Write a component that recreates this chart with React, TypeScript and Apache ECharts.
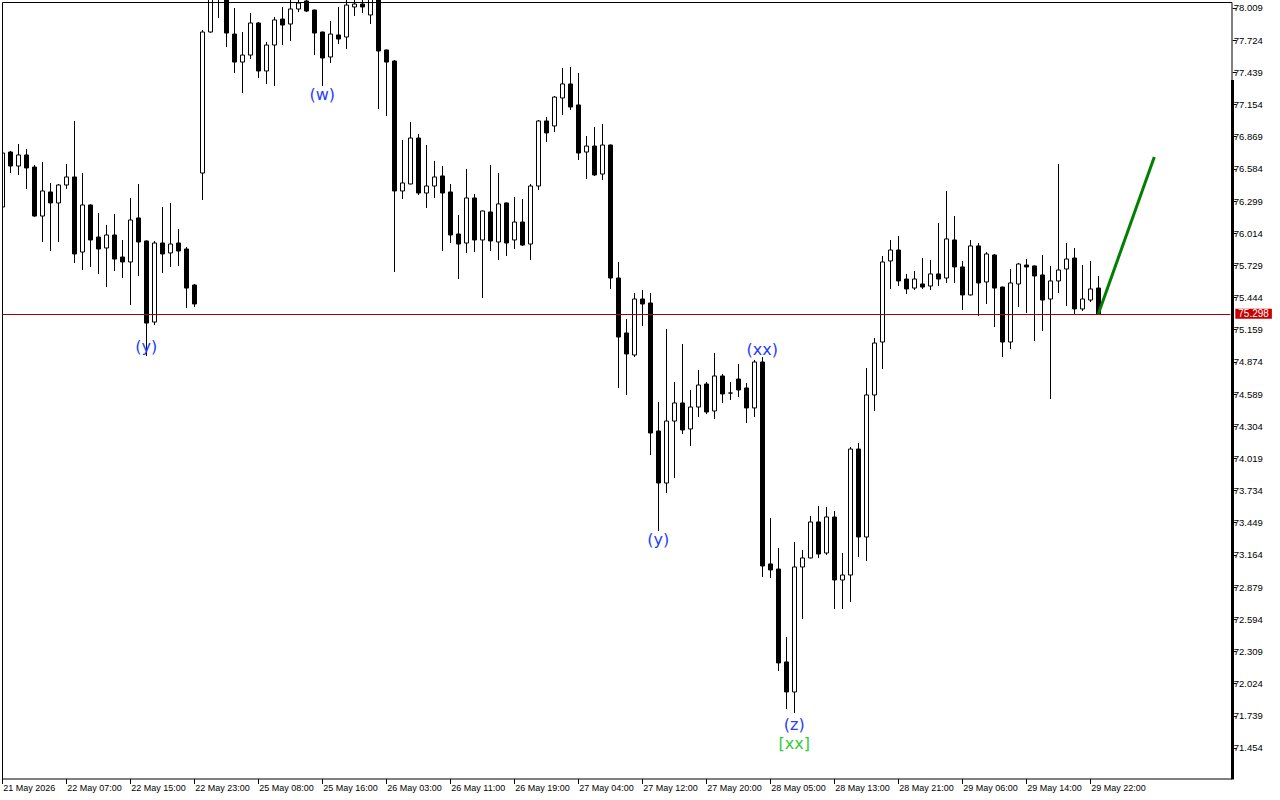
import React, { useEffect, useRef } from 'react';
import * as echarts from 'echarts';

// x-axis tick labels, one every 8 hourly bars
const xTickLabels = [
  '21 May 2026', '22 May 07:00', '22 May 15:00', '22 May 23:00', '25 May 08:00', '25 May 16:00',
  '26 May 03:00', '26 May 11:00', '26 May 19:00', '27 May 04:00', '27 May 12:00', '27 May 20:00',
  '28 May 05:00', '28 May 13:00', '28 May 21:00', '29 May 06:00', '29 May 14:00', '29 May 22:00',
];

// price axis labels
const yTickValues = [
  78.009, 77.724, 77.439, 77.154, 76.869, 76.584, 76.299, 76.014, 75.729, 75.444, 75.159, 74.874,
  74.589, 74.304, 74.019, 73.734, 73.449, 73.164, 72.879, 72.594, 72.309, 72.024, 71.739, 71.454,
];

// hourly candles: [open, close, low, high]
const candles: number[][] = [
  [76.246, 76.724, 76.219, 76.751], [76.733, 76.609, 76.547, 76.742], [76.609, 76.707, 76.530, 76.804],
  [76.707, 76.592, 76.406, 76.760], [76.600, 76.166, 76.160, 76.618], [76.166, 76.388, 75.936, 76.645],
  [76.379, 76.282, 75.856, 76.459], [76.282, 76.441, 75.936, 76.450], [76.441, 76.512, 76.406, 76.627],
  [76.512, 75.830, 75.750, 77.008], [75.847, 76.264, 75.688, 76.547], [76.264, 75.954, 75.715, 76.270],
  [75.980, 75.874, 75.653, 76.193], [75.883, 75.998, 75.537, 76.087], [75.998, 75.785, 75.679, 76.184],
  [75.803, 75.759, 75.617, 75.954], [75.759, 76.131, 75.378, 76.326], [76.149, 75.936, 75.635, 76.450],
  [75.945, 75.218, 74.926, 75.950], [75.227, 75.927, 75.201, 75.945], [75.927, 75.830, 75.661, 76.246],
  [75.839, 75.918, 75.715, 76.282], [75.927, 75.856, 75.724, 76.051], [75.874, 75.528, 75.351, 75.892],
  [75.555, 75.387, 75.360, 75.564], [76.547, 77.796, 76.308, 77.814], [77.796, 78.124, 77.790, 78.168],
  [78.213, 78.097, 77.920, 78.301], [78.124, 77.787, 77.663, 78.168], [77.778, 77.530, 77.433, 78.009],
  [77.530, 77.592, 77.256, 77.796], [77.592, 77.876, 77.557, 77.965], [77.876, 77.451, 77.389, 77.885],
  [77.451, 77.681, 77.336, 77.708], [77.681, 77.903, 77.318, 77.929], [77.911, 77.858, 77.681, 78.018],
  [77.867, 78.000, 77.717, 78.106], [78.000, 78.053, 77.973, 78.106], [78.071, 77.982, 77.973, 78.106],
  [77.991, 77.787, 77.592, 77.995], [77.796, 77.566, 77.318, 77.800], [77.575, 77.778, 77.522, 77.894],
  [77.770, 77.734, 77.690, 78.018], [77.752, 78.035, 77.646, 78.106], [78.018, 78.044, 77.938, 78.106],
  [78.044, 78.018, 77.965, 78.106], [77.947, 78.097, 77.867, 78.124], [78.097, 77.628, 77.114, 78.124],
  [77.637, 77.530, 77.052, 77.641], [77.539, 76.388, 75.670, 77.548], [76.388, 76.459, 76.317, 76.840],
  [76.450, 76.857, 76.446, 76.999], [76.857, 76.370, 76.352, 76.893], [76.370, 76.432, 76.237, 76.795],
  [76.432, 76.512, 76.326, 76.654], [76.521, 76.370, 75.856, 76.609], [76.379, 75.998, 75.927, 76.450],
  [76.007, 75.918, 75.608, 76.175], [75.927, 76.326, 75.839, 76.583], [76.326, 75.954, 75.847, 76.361],
  [75.954, 76.211, 75.440, 76.215], [76.202, 75.945, 75.856, 76.618], [75.936, 76.273, 75.777, 76.547],
  [76.282, 75.927, 75.812, 76.286], [75.954, 76.113, 75.874, 76.335], [76.113, 75.909, 75.901, 76.317],
  [75.918, 76.432, 75.777, 76.450], [76.432, 77.008, 76.397, 77.017], [77.008, 76.902, 76.822, 77.043],
  [76.964, 77.220, 76.910, 77.229], [77.212, 77.336, 77.061, 77.477], [77.336, 77.132, 77.105, 77.486],
  [77.150, 76.724, 76.662, 77.433], [76.733, 76.786, 76.494, 76.875], [76.786, 76.530, 76.521, 76.955],
  [76.538, 76.795, 76.485, 76.981], [76.795, 75.617, 75.520, 76.800], [75.617, 75.094, 74.643, 75.759],
  [75.130, 74.944, 74.581, 75.254], [74.935, 75.431, 74.917, 75.484], [75.431, 75.387, 75.192, 75.511],
  [75.396, 74.244, 74.049, 75.484], [74.262, 73.801, 73.376, 74.519], [73.801, 74.350, 73.713, 75.165],
  [74.350, 74.510, 73.846, 74.696], [74.510, 74.271, 74.235, 75.032], [74.280, 74.474, 74.129, 74.625],
  [74.474, 74.669, 74.386, 74.802], [74.678, 74.430, 74.412, 74.696], [74.439, 74.749, 74.368, 74.953],
  [74.749, 74.590, 74.510, 74.767], [74.598, 74.598, 74.536, 74.696], [74.722, 74.625, 74.563, 74.855],
  [74.643, 74.466, 74.333, 74.687], [74.466, 74.873, 74.386, 74.891], [74.873, 73.066, 72.969, 74.917],
  [73.084, 73.031, 72.960, 73.491], [73.039, 72.207, 72.136, 73.225], [72.216, 71.950, 71.799, 72.437],
  [71.950, 73.057, 71.764, 73.278], [73.057, 73.137, 72.596, 73.208], [73.137, 73.456, 73.133, 73.509],
  [73.456, 73.172, 73.137, 73.597], [73.181, 73.500, 73.164, 73.589], [73.500, 72.942, 72.685, 73.553],
  [72.942, 72.986, 72.685, 73.181], [72.986, 74.102, 72.747, 74.120], [74.102, 73.323, 73.146, 74.155],
  [73.323, 74.581, 73.110, 74.820], [74.581, 75.041, 74.439, 75.086], [75.050, 75.759, 74.811, 75.812],
  [75.768, 75.865, 75.520, 75.954], [75.865, 75.591, 75.546, 75.989], [75.608, 75.520, 75.475, 75.653],
  [75.528, 75.608, 75.511, 75.679], [75.564, 75.537, 75.520, 75.794], [75.546, 75.653, 75.511, 75.777],
  [75.653, 75.608, 75.546, 76.104], [75.617, 75.963, 75.573, 76.388], [75.954, 75.715, 75.573, 76.166],
  [75.715, 75.467, 75.334, 75.768], [75.467, 75.901, 75.462, 75.954], [75.901, 75.573, 75.280, 75.927],
  [75.582, 75.830, 75.387, 75.847], [75.821, 75.528, 75.183, 75.830], [75.537, 75.050, 74.917, 75.541],
  [75.050, 75.573, 74.988, 75.697], [75.564, 75.741, 75.360, 75.750], [75.732, 75.715, 75.307, 75.785],
  [75.724, 75.635, 75.059, 75.728], [75.644, 75.422, 75.148, 75.821], [75.431, 75.591, 74.545, 75.724],
  [75.591, 75.688, 75.484, 76.627], [75.697, 75.785, 75.369, 75.927], [75.794, 75.343, 75.289, 75.883],
  [75.343, 75.431, 75.325, 75.732], [75.422, 75.520, 75.404, 75.768], [75.528, 75.298, 75.298, 75.635],
];

const lastPrice = 75.298;

// projected move (green line): [bar index, price]
const projection: number[][] = [[137, 75.298], [144, 76.69]];

// wave labels
const waveLabelTexts = ['(y)', '(w)', '(y)', '(xx)', '(z)', '[xx]'];
const waveLabelIndex = [18, 40, 82, 95, 99, 99];
const waveLabelPrice = [75.006, 77.241, 73.302, 74.988, 71.666, 71.495];
const waveLabelColors = ['#1f3cff', '#1f3cff', '#1f3cff', '#1f3cff', '#1f3cff', '#33cc33'];

const TOTAL_BARS = 154;
const AXIS_FONT = '"Liberation Sans", Arial, sans-serif';

export default function App() {
  const ref = useRef<HTMLDivElement>(null);
  useEffect(() => {
    document.body.style.margin = '0';
    const chart = echarts.init(ref.current!, null, { renderer: 'svg' });
    const categories = Array.from({ length: TOTAL_BARS }, (_, i) => String(i));
    const showTick = (index: number) => index % 8 === 0 && index / 8 < xTickLabels.length;

    const waveData = waveLabelTexts.map((t, i) => ({
      value: [waveLabelIndex[i], waveLabelPrice[i]],
      label: { formatter: t, color: waveLabelColors[i] },
    }));

    chart.setOption({
      animation: false,
      backgroundColor: '#ffffff',
      grid: {
        left: -1.7,
        top: 2,
        width: 8 * TOTAL_BARS,
        height: 777,
        containLabel: false,
        outerBoundsMode: 'none',
      },
      xAxis: {
        type: 'category',
        data: categories,
        boundaryGap: true,
        axisLine: { show: false },
        axisTick: {
          show: true,
          alignWithLabel: true,
          interval: (index: number) => showTick(index),
          length: 5,
          lineStyle: { color: '#000', width: 1 },
        },
        axisLabel: {
          interval: (index: number) => showTick(index),
          formatter: (_v: string, index: number) => (showTick(index) ? xTickLabels[index / 8] : ''),
          align: 'left',
          margin: 4,
          padding: [0, 0, 0, 1],
          color: '#000',
          fontSize: 9,
          fontFamily: AXIS_FONT,
        },
        splitLine: { show: false },
      },
      yAxis: {
        type: 'value',
        position: 'right',
        min: 71.179,
        max: 78.062,
        offset: 2.4,
        axisLine: { show: false },
        splitLine: { show: false },
        axisTick: {
          show: true,
          customValues: yTickValues,
          length: 4,
          lineStyle: { color: '#000', width: 1 },
        },
        axisLabel: {
          customValues: yTickValues,
          formatter: (v: number) => v.toFixed(3),
          margin: 1,
          color: '#000',
          fontSize: 9.5,
          fontFamily: AXIS_FONT,
        },
      },
      series: [
        {
          type: 'candlestick',
          data: candles,
          barWidth: 4,
          clip: true,
          itemStyle: {
            color: '#ffffff',
            color0: '#000000',
            borderColor: '#000000',
            borderColor0: '#000000',
            borderWidth: 1,
          },
          markLine: {
            silent: true,
            symbol: 'none',
            animation: false,
            data: [{ yAxis: lastPrice }],
            lineStyle: { color: '#a80000', width: 1, type: 'solid' },
            label: {
              show: true,
              position: 'end',
              distance: 5,
              formatter: lastPrice.toFixed(3),
              color: '#ffffff',
              backgroundColor: '#c80000',
              padding: [1, 3, 0, 3],
              lineHeight: 9,
              fontSize: 10,
              fontFamily: AXIS_FONT,
            },
          },
          z: 2,
        },
        {
          type: 'line',
          data: projection,
          symbol: 'none',
          lineStyle: { color: '#008000', width: 3 },
          z: 3,
        },
        {
          type: 'scatter',
          data: waveData,
          symbolSize: 1,
          itemStyle: { color: 'rgba(0,0,0,0)', opacity: 1 },
          label: {
            show: true,
            position: 'inside',
            fontSize: 16,
            opacity: 1,
            fontFamily: '"DejaVu Sans", sans-serif',
          },
          emphasis: { disabled: true },
          z: 4,
        },
      ],
      graphic: [
        { type: 'rect', z: 100, silent: true, shape: { x: 0, y: 0, width: 2, height: 800 }, style: { fill: '#ffffff' } },
        {
          type: 'rect', z: 101, silent: true,
          shape: { x: 2.5, y: 2.5, width: 1229.5, height: 776.5 },
          style: { fill: 'none', stroke: '#000000', lineWidth: 1 },
        },
        { type: 'rect', z: 101, silent: true, shape: { x: 1231, y: 80, width: 3, height: 699.5 }, style: { fill: '#000000' } },
      ],
    });
    return () => chart.dispose();
  }, []);
  return <div ref={ref} style={{ width: 1280, height: 800 }} />;
}
